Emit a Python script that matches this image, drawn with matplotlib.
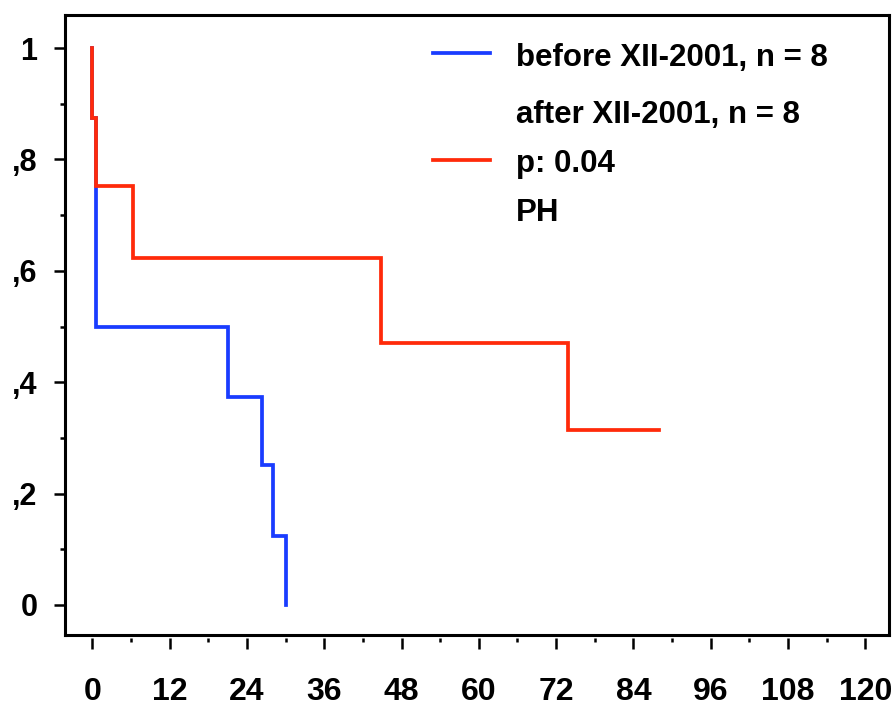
import matplotlib.pyplot as plt
from matplotlib import font_manager
from matplotlib.ticker import MultipleLocator, FixedFormatter, FixedLocator

# ---- survival data ----
before_t = [0, 0, 0.5, 21.1, 26.4, 28.1, 30.0]
before_s = [1.0, 0.874, 0.5, 0.373, 0.252, 0.123, 0.0]

after_t = [0, 0, 0.5, 6.35, 44.8, 73.8, 88.0]
after_s = [1.0, 0.874, 0.752, 0.623, 0.471, 0.315, 0.315]

x_ticks = [0, 12, 24, 36, 48, 60, 72, 84, 96, 108, 120]
y_ticks = [0, 0.2, 0.4, 0.6, 0.8, 1.0]
y_labels = ['0', ',2', ',4', ',6', ',8', '1']

legend_lines = ['before XII-2001, n = 8', 'after XII-2001, n = 8', 'p: 0.04', 'PH']

blue = '#1a3cff'
red = '#ff2a0a'

# narrow font for the x tick labels if there is one
installed = {f.name for f in font_manager.fontManager.ttflist}
if 'Liberation Sans Narrow' in installed:
    xfam, xsize = ['Liberation Sans Narrow', 'Liberation Sans'], 25
else:
    xfam, xsize = ['Liberation Sans', 'DejaVu Sans'], 23

fig = plt.figure(figsize=(8.94, 7.10), dpi=100)
ax = fig.add_axes([0.0723, 0.1056, 0.9222, 0.8737])

ax.step(before_t, before_s, where='post', color=blue, lw=2.7, solid_joinstyle='miter')
ax.step(after_t, after_s, where='post', color=red, lw=2.7, solid_joinstyle='miter')

ax.set_xlim(-4.3, 123.7)
ax.set_ylim(-0.054, 1.06)

# x axis: ticks hang below the frame with a small gap
ax.spines['bottom'].set_position(('outward', 2.5))
ax.spines['bottom'].set_color('none')
ax.plot([0, 1], [0, 0], transform=ax.transAxes, color='black', lw=2.2,
        clip_on=False, solid_capstyle='projecting')
for side in ['left', 'top', 'right']:
    ax.spines[side].set_linewidth(2.2)

ax.xaxis.set_major_locator(FixedLocator(x_ticks))
ax.xaxis.set_minor_locator(MultipleLocator(6))
ax.yaxis.set_major_locator(FixedLocator(y_ticks))
ax.yaxis.set_major_formatter(FixedFormatter(y_labels))
ax.yaxis.set_minor_locator(MultipleLocator(0.1))

ax.tick_params(axis='x', which='major', length=8, width=1.8, pad=20)
ax.tick_params(axis='x', which='minor', length=3, width=1.8)
ax.tick_params(axis='y', which='major', length=7.6, width=1.8, pad=12)
ax.tick_params(axis='y', which='minor', length=3.6, width=1.8)

for lab in ax.get_xticklabels():
    lab.set_family(xfam)
    lab.set_fontweight('bold')
    lab.set_fontsize(xsize)
for lab in ax.get_yticklabels():
    lab.set_family(['Liberation Sans', 'DejaVu Sans'])
    lab.set_fontweight('bold')
    lab.set_fontsize(22)

# legend block drawn by hand
ax.plot([0.4464, 0.5154], [0.938, 0.938], color=blue, lw=2.7, transform=ax.transAxes)
ax.plot([0.4464, 0.5154], [0.7658, 0.7658], color=red, lw=2.7, transform=ax.transAxes)
for txt, yy in zip(legend_lines, [0.9167, 0.8259, 0.7458, 0.6668]):
    ax.text(0.5475, yy, txt, transform=ax.transAxes, va='baseline', ha='left',
            fontsize=22.5, fontweight='bold', family=['Liberation Sans', 'DejaVu Sans'])

fig.savefig('out.png', dpi=100)
